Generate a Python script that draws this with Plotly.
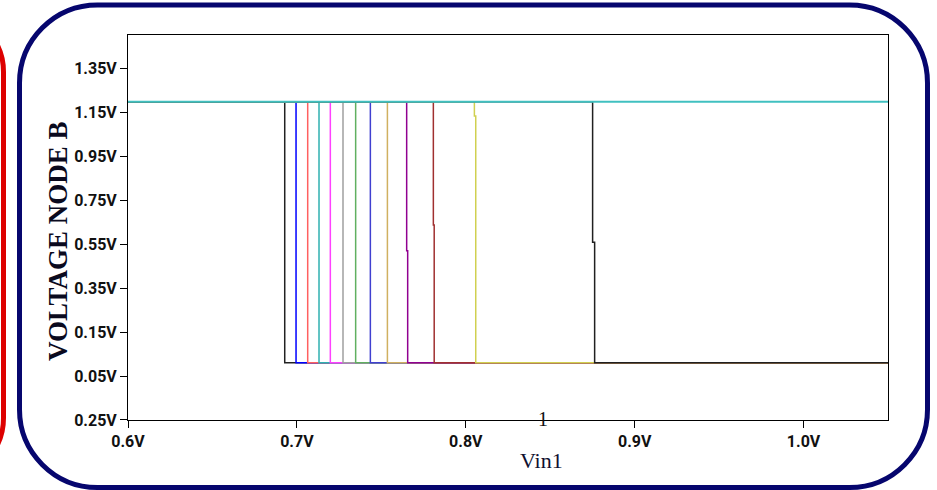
import plotly.graph_objects as go

# ---- data ----
vin_start = 0.6
vin_end = 1.05
v_high = 1.2
v_low = 0.01
# Vin1 where each curve switches (upper part / lower part of the drop)
switch_upper = [0.6928, 0.6995, 0.7064, 0.7131, 0.7198, 0.7273, 0.7348,
                0.7435, 0.7536, 0.7650, 0.7808, 0.8051, 0.8751]
switch_lower = [0.6928, 0.6995, 0.7064, 0.7131, 0.7198, 0.7273, 0.7348,
                0.7435, 0.7536, 0.7656, 0.7813, 0.8059, 0.8763]
switch_mid_v = [0.6, 0.6, 0.6, 0.6, 0.6, 0.6, 0.6,
                0.6, 0.6, 0.521, 0.638, 1.135, 0.559]
curve_colors = ["#222222", "#0000ff", "#ff6060", "#30b0b0", "#ff40ff",
                "#a0a0a0", "#60b060", "#4040d0", "#d0b060", "#900090",
                "#a03030", "#d0d050", "#202020"]
y_tickvals = [1.35, 1.15, 0.95, 0.75, 0.55, 0.35, 0.15, -0.05, -0.25]
y_ticktext = ["1.35V", "1.15V", "0.95V", "0.75V", "0.55V", "0.35V",
              "0.15V", "0.05V", "0.25V"]
x_tickvals = [0.6, 0.7, 0.8, 0.9, 1.0]
x_ticktext = ["0.6V", "0.7V", "0.8V", "0.9V", "1.0V"]

W, H = 937, 490
L, R, T, B = 128, 49, 35, 70

def PX(px):
    return (px - L) / (W - L - R)

def PY(py):
    return ((H - B) - py) / (H - T - B)

def rounded_path(x0, y0, x1, y1, r):
    k = 0.5523 * r
    def p(x, y):
        return f"{PX(x):.5f},{PY(y):.5f}"
    s = f"M {p(x0 + r, y0)} L {p(x1 - r, y0)} "
    s += f"C {p(x1 - r + k, y0)} {p(x1, y0 + r - k)} {p(x1, y0 + r)} "
    s += f"L {p(x1, y1 - r)} "
    s += f"C {p(x1, y1 - r + k)} {p(x1 - r + k, y1)} {p(x1 - r, y1)} "
    s += f"L {p(x0 + r, y1)} "
    s += f"C {p(x0 + r - k, y1)} {p(x0, y1 - r + k)} {p(x0, y1 - r)} "
    s += f"L {p(x0, y0 + r)} "
    s += f"C {p(x0, y0 + r - k)} {p(x0 + r - k, y0)} {p(x0 + r, y0)} Z"
    return s

fig = go.Figure()

order = sorted(range(len(switch_upper)), key=lambda i: switch_upper[i])
for i in order:
    xs = [vin_start, switch_upper[i], switch_upper[i], switch_lower[i], switch_lower[i], vin_end]
    ys = [v_high, v_high, switch_mid_v[i], switch_mid_v[i], v_low, v_low]
    fig.add_trace(go.Scatter(x=xs, y=ys, mode="lines",
                             line=dict(color=curve_colors[i], width=1.5),
                             showlegend=False, hoverinfo="skip"))

fig.add_trace(go.Scatter(x=[vin_start, vin_end], y=[v_high, v_high], mode="lines",
                         line=dict(color="#40c0c0", width=2),
                         showlegend=False, hoverinfo="skip"))

tickfont = dict(family="Roboto, Liberation Sans, sans-serif",
                size=16, color="#111111", weight="bold")

fig.update_xaxes(range=[vin_start, vin_end], tickvals=x_tickvals, ticktext=x_ticktext,
                 showgrid=False, zeroline=False, showline=True, linecolor="black",
                 linewidth=1, mirror=True, ticks="outside", ticklen=7, tickcolor="black",
                 tickfont=tickfont)
fig.update_yaxes(range=[-0.2503, 1.5036], tickvals=y_tickvals, ticktext=y_ticktext,
                 showgrid=False, zeroline=False, showline=True, linecolor="black",
                 linewidth=1, mirror=True, ticks="outside", ticklen=7, tickcolor="black",
                 tickfont=tickfont)

shapes = [
    dict(type="path", xref="paper", yref="paper",
         path=rounded_path(19.5, 5, 927.5, 487.5, 78),
         line=dict(color="#06066e", width=5)),
    dict(type="path", xref="paper", yref="paper",
         path=rounded_path(-300, 12, 3.5, 478, 60),
         line=dict(color="#dd0000", width=5)),
]

annotations = [
    dict(text="VOLTAGE NODE B", xref="paper", yref="paper", x=PX(58), y=PY(241),
         showarrow=False, textangle=-90, xanchor="center", yanchor="middle",
         font=dict(family="Liberation Serif, Times New Roman, serif", size=27,
                   color="#0a0a1e", weight="bold")),
    dict(text="Vin1", xref="paper", yref="paper", x=PX(541), y=PY(460),
         showarrow=False, xanchor="center", yanchor="middle",
         font=dict(family="Liberation Serif, Times New Roman, serif", size=22,
                   color="#101030")),
    dict(text="1", xref="paper", yref="paper", x=PX(543), y=PY(419),
         showarrow=False, xanchor="center", yanchor="middle",
         font=dict(family="Liberation Serif, Times New Roman, serif", size=20,
                   color="#111111")),
]

fig.update_layout(width=W, height=H, margin=dict(l=L, r=R, t=T, b=B),
                  plot_bgcolor="white", paper_bgcolor="white",
                  shapes=shapes, annotations=annotations, showlegend=False)

fig.write_html("out.html")
